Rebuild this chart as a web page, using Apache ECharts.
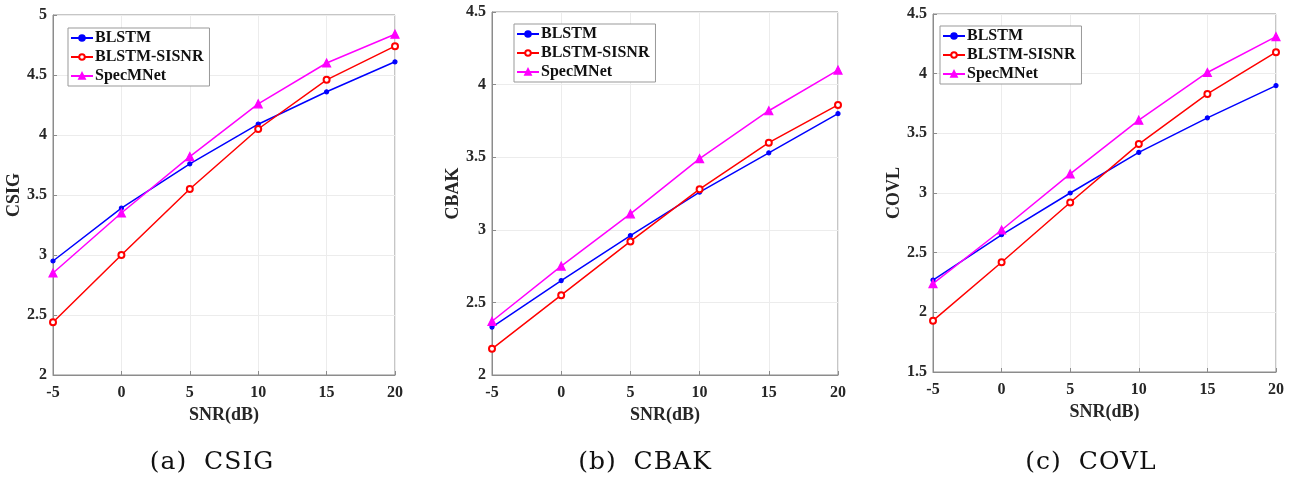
<!DOCTYPE html>
<html><head><meta charset="utf-8">
<script src="https://cdn.jsdelivr.net/npm/echarts@6/dist/echarts.min.js"></script>
<style>html,body{margin:0;padding:0;background:#fff}#c{width:1292px;height:494px}
.cap{position:absolute;top:446px;font-family:'DejaVu Serif',serif;font-size:25px;letter-spacing:1px;word-spacing:8px;color:#111;transform:translateX(-50%);white-space:nowrap}</style>
</head><body><div id="c"></div>
<div class="cap" style="left:212px">(a) CSIG</div>
<div class="cap" style="left:645px">(b) CBAK</div>
<div class="cap" style="left:1091px">(c) COVL</div>
<script>
const snr = [-5, 0, 5, 10, 15, 20];
const names = ['BLSTM', 'BLSTM-SISNR', 'SpecMNet'];
const csigBLSTM = [2.95, 3.39, 3.76, 4.09, 4.36, 4.61];
const csigSISNR = [2.44, 3.00, 3.55, 4.05, 4.46, 4.74];
const csigSpec  = [2.85, 3.35, 3.82, 4.26, 4.60, 4.84];
const cbakBLSTM = [2.33, 2.65, 2.96, 3.26, 3.53, 3.80];
const cbakSISNR = [2.18, 2.55, 2.92, 3.28, 3.60, 3.86];
const cbakSpec  = [2.37, 2.75, 3.11, 3.49, 3.82, 4.10];
const covlBLSTM = [2.27, 2.65, 3.00, 3.34, 3.63, 3.90];
const covlSISNR = [1.93, 2.42, 2.92, 3.41, 3.83, 4.18];
const covlSpec  = [2.24, 2.69, 3.16, 3.61, 4.01, 4.31];
const yNames = ['CSIG', 'CBAK', 'COVL'];
const yMin = [2, 2, 1.5], yMax = [5, 4.5, 4.5];

const panels = [
  {grid:{left:53, right:1292-395, top:15, bottom:494-375}, leg:{left:68, top:28}, data:[csigBLSTM, csigSISNR, csigSpec]},
  {grid:{left:492, right:1292-838, top:12, bottom:494-375}, leg:{left:514, top:24}, data:[cbakBLSTM, cbakSISNR, cbakSpec]},
  {grid:{left:933, right:1292-1276, top:14, bottom:494-372}, leg:{left:940, top:26}, data:[covlBLSTM, covlSISNR, covlSpec]}
];
const colors = ['#0000ff', '#ff0000', '#ff00ff'];
const symbols = ['circle', 'emptyCircle', 'triangle'];
const symSizes = [4, 6, 8];
const font = 'Liberation Serif';
const txt = '#262626';
const axc = '#8c8c8c';

const option = {animation:false, grid:[], xAxis:[], yAxis:[], legend:[], series:[]};
panels.forEach((p, i) => {
  option.grid.push(Object.assign({show:true, borderColor:axc, borderWidth:1, containLabel:false}, p.grid));
  option.xAxis.push({type:'value', gridIndex:i, min:-5, max:20, interval:5,
    name:'SNR(dB)', nameLocation:'middle', nameGap:26,
    nameTextStyle:{fontFamily:font, fontWeight:'bold', fontSize:18, color:txt},
    axisLine:{onZero:false, lineStyle:{color:axc}}, axisTick:{inside:true, length:4, lineStyle:{color:axc}},
    axisLabel:{fontFamily:font, fontWeight:'bold', fontSize:16, color:txt, margin:10},
    splitLine:{show:true, lineStyle:{color:'#ececec'}}});
  option.yAxis.push({type:'value', gridIndex:i, min:yMin[i], max:yMax[i], interval:0.5,
    name:yNames[i], nameLocation:'middle', nameGap:24,
    nameTextStyle:{fontFamily:font, fontWeight:'bold', fontSize:18, color:txt},
    axisLine:{show:true, onZero:false, lineStyle:{color:axc}}, axisTick:{show:true, inside:true, length:4, lineStyle:{color:axc}},
    axisLabel:{fontFamily:font, fontWeight:'bold', fontSize:16, color:txt, margin:6, formatter: v => String(v)},
    splitLine:{show:true, lineStyle:{color:'#ececec'}}});
  option.legend.push(Object.assign({orient:'vertical', data:names, itemWidth:22, itemHeight:7, itemGap:3,
    padding:[2,6,2,2], borderColor:'#999', borderWidth:1, backgroundColor:'#fff', selectedMode:false,
    textStyle:{fontFamily:font, fontWeight:'bold', fontSize:16, color:'#111', padding:[0,0,0,-3]}}, p.leg));
  p.data.forEach((d, k) => {
    option.series.push({type:'line', name:names[k], xAxisIndex:i, yAxisIndex:i,
      data:snr.map((x, j) => [x, d[j]]), color:colors[k],
      symbol:symbols[k], symbolSize:symSizes[k], showAllSymbol:true,
      lineStyle:{width:1.5, color:colors[k]}, itemStyle:{color:colors[k], borderColor:colors[k], borderWidth:1.2}});
  });
});
const chart = echarts.init(document.getElementById('c'), null, {renderer:'canvas'});
chart.setOption(option);
</script></body></html>
